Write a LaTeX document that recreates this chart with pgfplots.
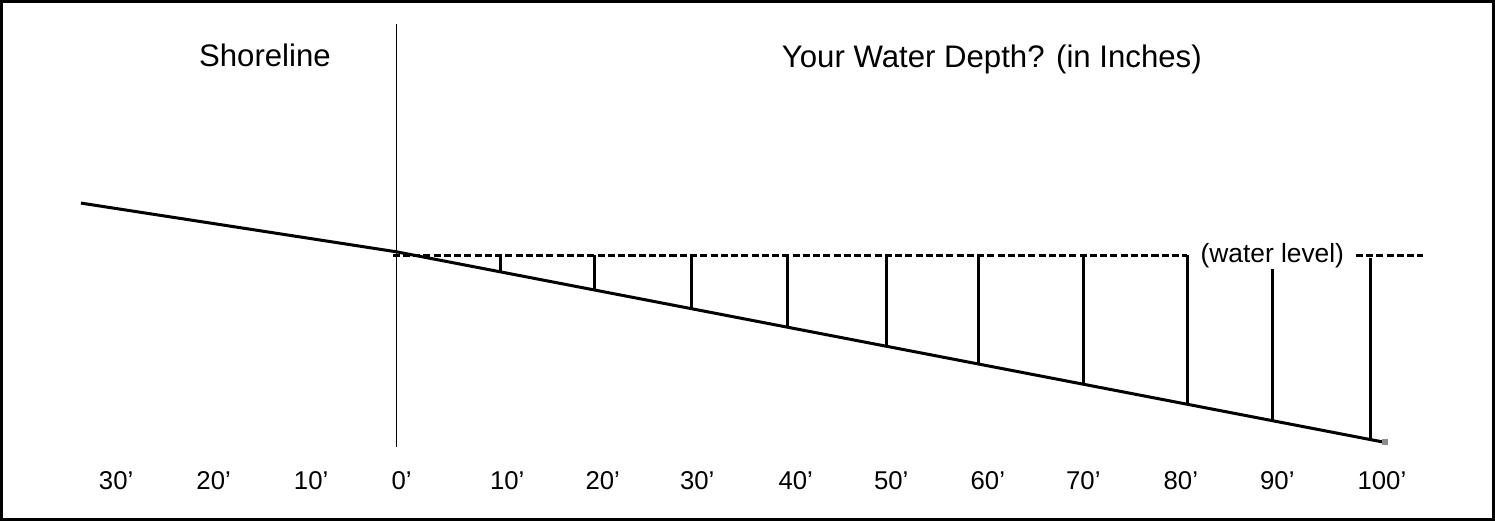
\documentclass[border=0pt]{standalone}
\usepackage{pgfplots}
\pgfplotsset{compat=1.18}
\usepackage{fontspec}
\setmainfont{Liberation Sans}
\begin{document}
\begin{tikzpicture}
\begin{axis}[
  width=747.5pt, height=259.5pt, scale only axis,
  xmin=0, xmax=1495, ymin=0, ymax=519, y dir=reverse,
  hide axis, clip=false,
  unbounded coords=jump,
]
% frame
\draw[line width=1.5pt] (axis cs:6,1.5) rectangle (axis cs:1490,516.5);
% shoreline marker
\addplot[black, line width=0.5pt] coordinates {(399,24) (399,445)};
% water level (dashed), interrupted by the label
\addplot[black, line width=1.2pt, dash pattern=on 3.5pt off 1.6pt] coordinates {(395,254) (1185,254) (nan,nan) (1353,254) (1420,254)};
% depth lines
\addplot[black, line width=1.4pt] table[row sep=\\] {
x y\\
502 254\\ 502 270.4\\ nan nan\\
596 254\\ 596 288.5\\ nan nan\\
692 254\\ 692 307.0\\ nan nan\\
788 254\\ 788 325.5\\ nan nan\\
886 254\\ 886 344.4\\ nan nan\\
978 254\\ 978 362.1\\ nan nan\\
1082 254\\ 1082 382.2\\ nan nan\\
1186 254\\ 1186 402.2\\ nan nan\\
1270 268\\ 1270 418.4\\ nan nan\\
1368 257\\ 1368 437.3\\
};
% ground slope
\addplot[black, line width=1.5pt] coordinates {(85,202) (399,250.5) (1382,440)};
\addplot[only marks, mark=square*, mark size=1.25pt, color=gray!90] coordinates {(1382,440)};
% texts
\node[anchor=base, font=\fontsize{15.5}{18}\selectfont] at (axis cs:268,66) {Shoreline};
\node[anchor=base, font=\fontsize{15.5}{18}\selectfont] at (axis cs:991,67) {Your Water Depth? (in Inches)};
\node[anchor=base, font=\fontsize{13.1}{16}\selectfont] at (axis cs:1270,261.5) {(water level)};
\foreach \xx/\lab in {120/30, 217/20, 314/10, 404/0, 509/10, 604/20, 698/30, 796/40, 891/50, 987/60, 1082/70, 1179/80, 1275/90, 1379/100} {
  \edef\tmp{\noexpand\node[anchor=base, font=\noexpand\fontsize{12.8}{15}\noexpand\selectfont] at (axis cs:\xx,487) {\lab’};}
  \tmp
}
\end{axis}
\end{tikzpicture}
\end{document}
